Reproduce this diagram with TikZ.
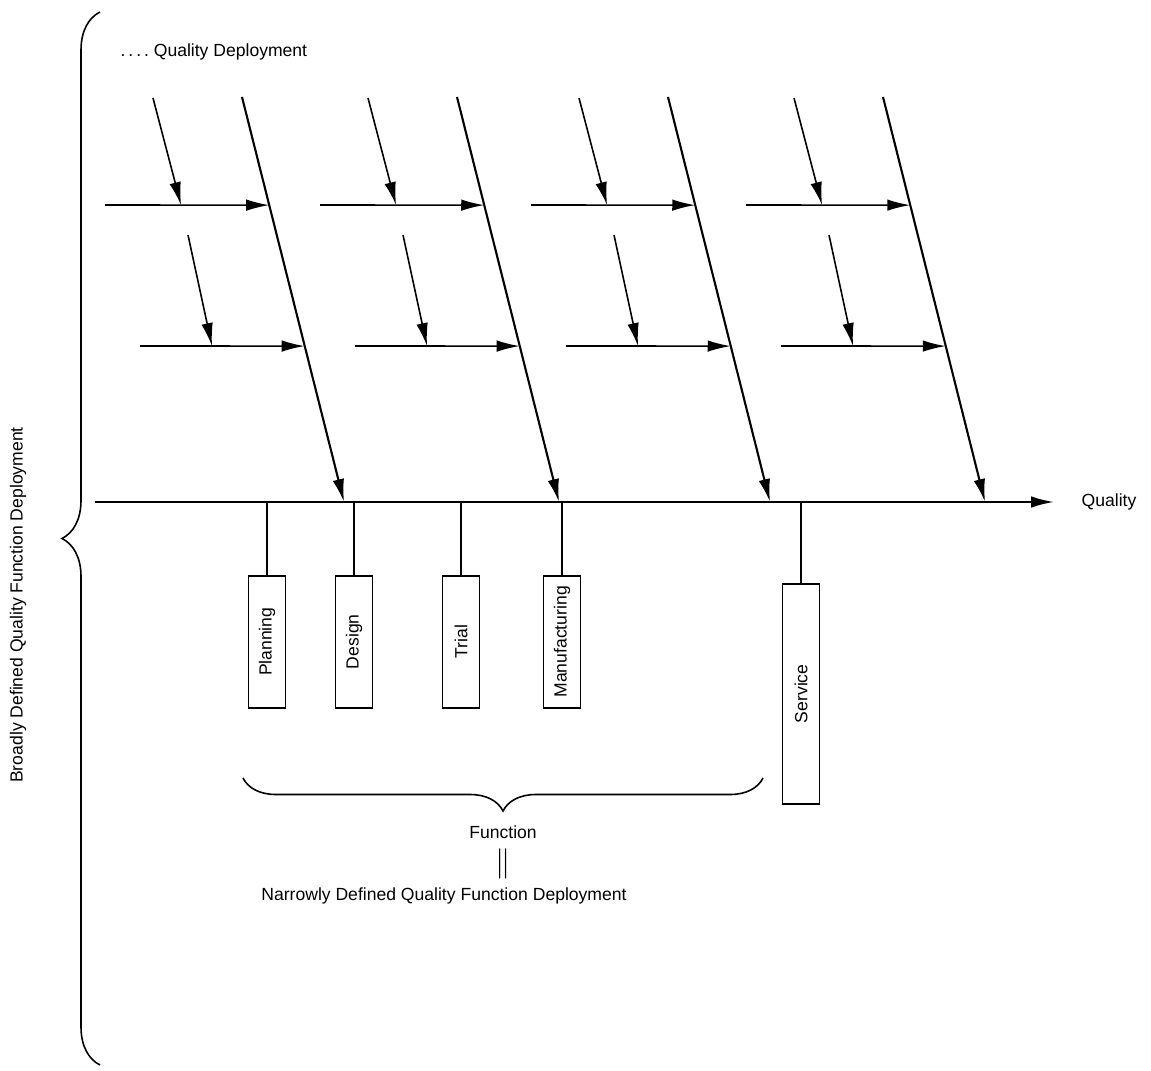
\documentclass[tikz,border=0pt]{standalone}
\usepackage{graphicx}
\usepackage{fontspec}
\setmainfont{Liberation Sans}
\usetikzlibrary{arrows.meta,calc,positioning,decorations.pathreplacing}

\begin{document}
\begin{tikzpicture}[x=0.02cm, y=-0.02cm, line width=0.9pt,
  every node/.style={font=\fontsize{10}{12}\selectfont},
  tip/.style={-{Latex[length=4.6mm,width=2.3mm]}},
  bone/.style={tip, line width=1.2pt},
  stage/.style={draw, minimum width=0.74cm, minimum height=2.64cm, inner sep=0pt}]
  \useasboundingbox (0,0) rectangle (1151,1070);
  % spine and effect
  \coordinate (spineL) at (95,502);
  \coordinate (spineR) at (1054,502);
  \draw[bone] (spineL) -- (spineR);
  \node[right=0.42cm of spineR] (quality) {Quality};
  % bones with their branches
  \foreach \x [count=\i] in {242,457,668,883} {
    \coordinate (b\i t) at (\x,97);
    \coordinate (b\i h) at (\x+102,502);
    \coordinate (r\i a) at (\x-137,205);
    \coordinate (r\i b) at (\x-102,346);
    \coordinate (c\i a) at ($(b\i t)!0.267!(b\i h)$);
    \coordinate (c\i b) at ($(b\i t)!0.615!(b\i h)$);
    \coordinate (d\i a) at (\x-89,98);
    \coordinate (d\i b) at (\x-54,235);
    \draw[bone] (b\i t) -- (b\i h);
    \draw[tip] (r\i a) -- (c\i a);
    \draw[tip] (r\i b) -- (c\i b);
    \draw[tip] (d\i a) -- ($(r\i a)!0.463!(c\i a)$);
    \draw[tip] (d\i b) -- ($(r\i b)!0.437!(c\i b)$);
  }
  % stages hanging from the spine
  \foreach \x/\name/\lab in {267/plan/Planning,354/design/Design,461/trial/Trial,562/manuf/Manufacturing} {
    \coordinate (\name s) at (\x,502);
    \node[stage, anchor=north] (\name) at (\x,575) {\rotatebox{90}{\lab}};
    \draw (\name s) -- (\name.north);
  }
  \coordinate (serv s) at (801,502);
  \node[stage, minimum height=4.4cm, anchor=north] (serv) at (801,583) {\rotatebox{90}{Service}};
  \draw (serv s) -- (serv.north);
  % braces and labels
  \node[anchor=west] (qd) at (114,52) {.\,.\,.\,.\ Quality Deployment};
  \draw[decorate, decoration={brace, amplitude=0.76cm}] (100,1065) -- (100,12);
  \node[rotate=90] (broad) at (18,605) {Broadly Defined Quality Function Deployment};
  \draw[decorate, decoration={brace, amplitude=0.66cm}] (763,778) -- (243,778);
  \node (func) at (503,832) {Function};
  \node[inner sep=0pt] (eq) at (503,864) {\fontsize{16}{16}\selectfont$\|$};
  \node (narrow) at (444,896) {Narrowly Defined Quality Function Deployment};
\end{tikzpicture}
\end{document}
